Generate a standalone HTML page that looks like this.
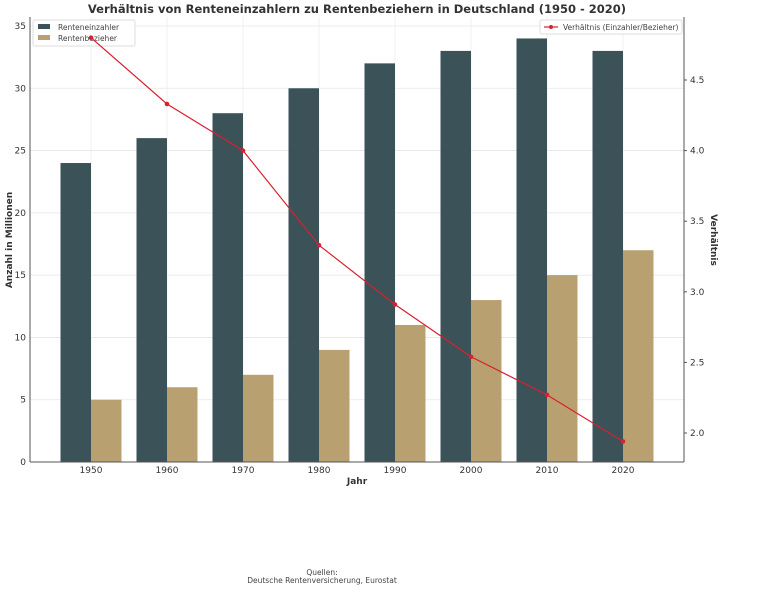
<!DOCTYPE html>
<html><head><meta charset="utf-8"><style>
body{margin:0;background:#fff;width:768px;height:590px;overflow:hidden;font-family:"DejaVu Sans","Liberation Sans",sans-serif}
</style></head><body>
<svg width="768" height="590" font-family="DejaVu Sans, Liberation Sans, sans-serif">
<text x="357" y="13" text-anchor="middle" font-size="11.5" font-weight="bold" fill="#333">Verhältnis von Renteneinzahlern zu Rentenbeziehern in Deutschland (1950 - 2020)</text>
<g id="grid"></g><g id="bars"></g>
<g>
<rect x="33" y="20" width="102" height="26" fill="#fff" fill-opacity="0.85" stroke="#ddd" rx="2"/>
<rect x="38" y="24" width="12" height="5" fill="#3a5258"/><text x="58" y="30" font-size="7.5" fill="#444">Renteneinzahler</text>
<rect x="38" y="35" width="12" height="5" fill="#b8a070"/><text x="58" y="41" font-size="7.5" fill="#444">Rentenbezieher</text>
</g>
<g>
<rect x="540" y="20" width="142" height="14" fill="#fff" stroke="#ddd" rx="2"/>
<line x1="544" y1="27" x2="558" y2="27" stroke="#d9202e" stroke-width="1.2"/><circle cx="551" cy="27" r="2" fill="#d9202e"/>
<text x="563" y="30" font-size="7.5" fill="#444">Verhältnis (Einzahler/Bezieher)</text>
</g>
<g id="line"></g><g id="axes"></g>
<text x="357" y="484" text-anchor="middle" font-size="9" font-weight="bold" fill="#333">Jahr</text>
<text transform="translate(12,240) rotate(-90)" text-anchor="middle" font-size="9" font-weight="bold" fill="#333">Anzahl in Millionen</text>
<text transform="translate(711,240) rotate(90)" text-anchor="middle" font-size="9" font-weight="bold" fill="#333">Verhältnis</text>
<text x="322" y="575" text-anchor="middle" font-size="7.5" fill="#444">Quellen:</text>
<text x="322" y="583" text-anchor="middle" font-size="7.5" fill="#444">Deutsche Rentenversicherung, Eurostat</text>
</svg>
<script>
const years=[1950,1960,1970,1980,1990,2000,2010,2020];
const einzahler=[24,26,28,30,32,33,34,33];
const bezieher=[5,6,7,9,11,13,15,17];
const ratio=[4.8,4.33,4.0,3.33,2.91,2.54,2.27,1.94];
const yTicks=[0,5,10,15,20,25,30,35];
const y2Ticks=[2.0,2.5,3.0,3.5,4.0,4.5];
const NS="http://www.w3.org/2000/svg";
const L=30,R=684,T=17,B=462;
const xs=i=>91+i*76.0;
const y=v=>B-v*(436/35);
const y2=v=>433-(v-2.0)*141.2;
function mk(p,t,a){const e=document.createElementNS(NS,t);for(const k in a)e.setAttribute(k,a[k]);document.getElementById(p).appendChild(e);return e;}
yTicks.forEach(v=>{const g=mk('grid','line',{x1:L,x2:R,y1:y(v),y2:y(v),stroke:'#e6e6e6','stroke-width':0.8});


const t=mk('axes','text',{x:L-4,y:y(v)+3,'text-anchor':'end','font-size':9,fill:'#333'});t.textContent=v;

});
years.forEach((yr,i)=>{const g=mk('grid','line',{x1:xs(i),x2:xs(i),y1:T,y2:B,stroke:'#ececec','stroke-width':0.8});


const b1=mk('bars','rect',{x:xs(i)-30.5,y:y(einzahler[i]),width:30.5,height:B-y(einzahler[i]),fill:'#3a5258'});


const b2=mk('bars','rect',{x:xs(i),y:y(bezieher[i]),width:30.5,height:B-y(bezieher[i]),fill:'#b8a070'});


const t=mk('axes','text',{x:xs(i),y:B+11,'text-anchor':'middle','font-size':9,fill:'#333'});t.textContent=yr;

});
const pl=mk('line','polyline',{points:ratio.map((v,i)=>xs(i)+','+y2(v)).join(' '),fill:'none',stroke:'#d9202e','stroke-width':1.2});


ratio.forEach((v,i)=>{const c=mk('line','circle',{cx:xs(i),cy:y2(v),r:2.3,fill:'#d9202e'});

});
y2Ticks.forEach(v=>{mk('axes','line',{x1:R,x2:R+3,y1:y2(v),y2:y2(v),stroke:'#555'});
const t=mk('axes','text',{x:R+6,y:y2(v)+3,'font-size':9,fill:'#333'});t.textContent=v.toFixed(1);

});
mk('axes','line',{x1:L,x2:L,y1:T,y2:B,stroke:'#555'});
mk('axes','line',{x1:L,x2:R,y1:B,y2:B,stroke:'#555'});
mk('axes','line',{x1:R,x2:R,y1:T,y2:B,stroke:'#555'});
</script>
</body></html>
